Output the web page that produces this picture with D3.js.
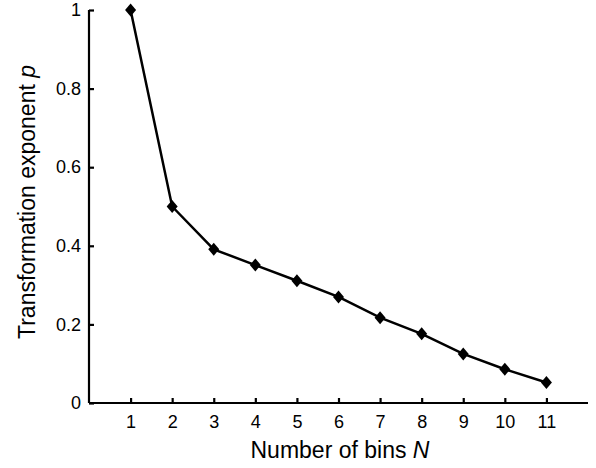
<!DOCTYPE html>
<html lang="en">
<head>
  <meta charset="utf-8">
  <title>Transformation exponent vs number of bins</title>
  <script src="https://d3js.org/d3.v7.min.js"></script>
<style>
  body { margin: 0; background: #fff; }
  text { font-family: "Liberation Sans", Arial, sans-serif; fill: #000; }
</style>
</head>
<body>
<div id="chart"></div>
<script>
  // data
  var bins = [1, 2, 3, 4, 5, 6, 7, 8, 9, 10, 11];
  var exponent = [1.0, 0.50, 0.391, 0.351, 0.311, 0.270, 0.217, 0.176, 0.125, 0.086, 0.052];
  var yTicks = [0, 0.2, 0.4, 0.6, 0.8, 1];

  var width = 596, height = 468;
  var margin = { left: 89, right: 8, top: 10, bottom: 65 };

  var svg = d3.select("#chart").append("svg")
    .attr("width", width)
    .attr("height", height);

  var x = d3.scaleLinear().domain([0, 12]).range([margin.left, width - margin.right]);
  var y = d3.scaleLinear().domain([0, 1]).range([height - margin.bottom, margin.top]);

  // heavier axes and larger labels than d3 defaults
  function styleAxis(g) {
    g.attr("font-size", null).attr("font-family", null);
    g.selectAll("path, line").style("stroke", "#000").style("stroke-width", "2.2px");
    g.selectAll("text").style("font-size", "18px").style("fill", "#000");
  }

  // x axis, ticks pointing inward
  svg.append("g")
    .attr("transform", "translate(0," + y(0) + ")")
    .call(d3.axisBottom(x).tickValues(bins).tickSizeInner(-5).tickSizeOuter(0).tickPadding(12))
    .call(function (g) { g.select(".domain").attr("d", "M" + x(0) + ",0H" + x(12)); })
    .call(styleAxis);

  svg.append("g")
    .attr("transform", "translate(" + x(0) + ",0)")
    .call(d3.axisLeft(y).tickValues(yTicks).tickSizeInner(-5).tickSizeOuter(0).tickPadding(8)
      .tickFormat(function (d) { return d3.format("")(d); }))
    .call(function (g) { g.select(".domain").attr("d", "M0," + y(0) + "V" + y(1)); })
    .call(styleAxis);

  var pts = bins.map(function (b, i) { return [b, exponent[i]]; });

  svg.append("path")
    .datum(pts)
    .attr("fill", "none")
    .attr("stroke", "#000")
    .attr("stroke-width", 2.5)
    .attr("d", d3.line().x(function (d) { return x(d[0]); }).y(function (d) { return y(d[1]); }));

  svg.selectAll(".marker")
    .data(pts)
    .enter().append("path")
    .attr("class", "marker")
    .attr("d", "M0,-6.5L5.5,0L0,6.5L-5.5,0Z")
    .attr("transform", function (d) { return "translate(" + x(d[0]) + "," + y(d[1]) + ")"; })
    .attr("fill", "#000");

  // axis titles
  var xt = svg.append("text")
    .attr("x", 340)
    .attr("y", 458)
    .attr("text-anchor", "middle")
    .style("font-size", "23px");
  xt.append("tspan").text("Number of bins ");
  xt.append("tspan").style("font-style", "italic").text("N");

  var yt = svg.append("text")
    .attr("transform", "translate(35,202) rotate(-90)")
    .attr("text-anchor", "middle")
    .style("font-size", "23px");
  yt.append("tspan").text("Transformation exponent ");
  yt.append("tspan").style("font-style", "italic").text("p");
</script>
</body>
</html>
